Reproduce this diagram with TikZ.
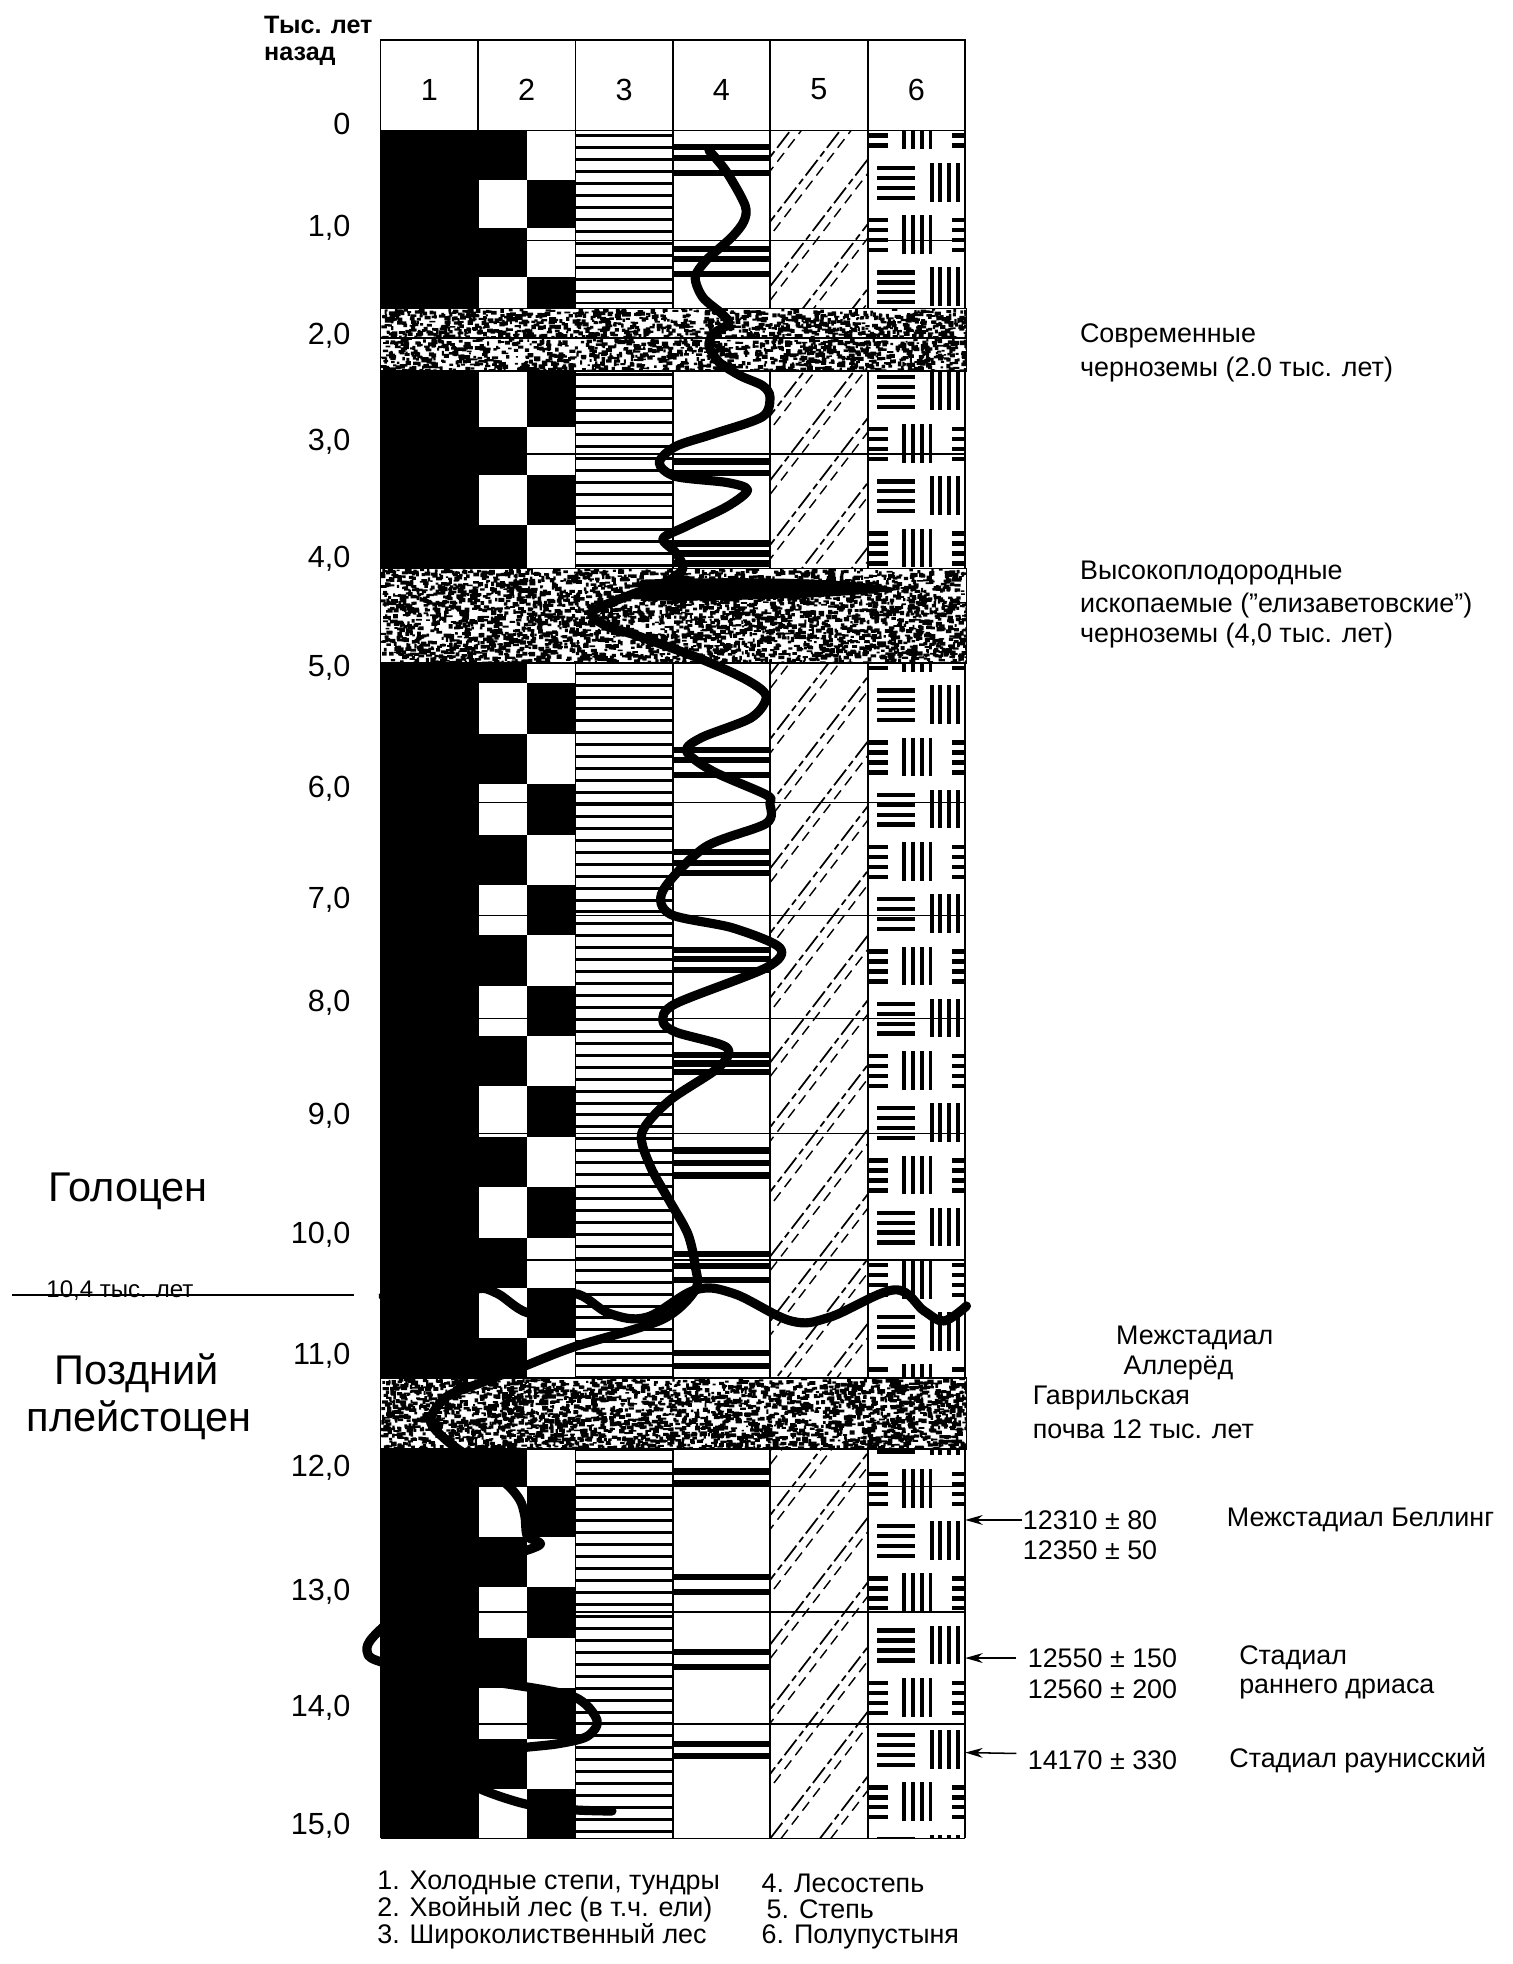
\documentclass[tikz,border=0pt]{standalone}
\usepackage{fontspec}
\setmainfont{Liberation Sans}
\usetikzlibrary{arrows.meta}

% speckled soil layer: top, bottom, number of grains
\newcommand\soilband[3]{%
  \fill[white] (306,#1) rectangle (777,#2);
  \begin{scope}
    \clip (306,#1) rectangle (777,#2);
    \fill \foreach \i in {1,...,#3} {({306+471*rnd},{#1+(#2-#1)*rnd}) rectangle ++({1.5+3.5*rnd},{1.2+2.5*rnd})};
  \end{scope}
  \draw[line width=0.8pt] (306,#1) rectangle (777,#2);
}

\begin{document}
\begin{tikzpicture}[x=0.02cm,y=-0.02cm,
  lbl/.style={font=\fontsize{12.3}{14}\selectfont,inner sep=0pt,anchor=west},
  age/.style={font=\fontsize{14}{16}\selectfont,inner sep=0pt,anchor=east},
  big/.style={font=\fontsize{19}{22}\selectfont,inner sep=0pt},
  curve/.style={line width=4.2pt,line cap=round,line join=round},
  gridline/.style={line width=0.5pt},
  hatch/.style={line width=0.8pt,dash pattern=on 9pt off 2pt on 3pt off 2pt},
  hatchb/.style={line width=0.65pt,dash pattern=on 5pt off 3pt},
  arr/.style={-{Stealth[length=8pt,width=4.5pt]},line width=0.7pt}]
  \useasboundingbox (0,0) rectangle (1216,1579);
  \pgfmathsetseed{4711}

  % 1: cold steppe
  \fill (306,105) rectangle (384.3,1478);
  % 2: conifer forest, chequered
  \foreach \ya/\yb/\s in {105/145/0,145/183/1,183/223/0,223/248/1,
    298/343/1,343/382/0,382/422/1,422/457/0,
    533/549.5/0,549.5/590/1,590/630.5/0,630.5/671/1,671/711.5/0,711.5/752/1,
    752/792.5/0,792.5/833/1,833/873.5/0,873.5/914/1,914/954.5/0,954.5/995/1,
    995/1035.5/0,1035.5/1076/1,1076/1108/0,
    1165/1195/0,1195/1236/1,1236/1276/0,1276/1317/1,1317/1357/0,1357/1398/1,
    1398/1438/0,1438/1478/1}
    \fill (384.3+39.2*\s,\ya) rectangle ++(39.2,\yb-\ya);
  % 3: broadleaf forest
  \foreach \y in {108,117.6,...,1476}
    \fill (462.7,\y) rectangle (541,\y+2.4);
  % 4: forest-steppe
  \foreach \y in {118,127,139,200,208,220,371,380,437,445,453,603,611,623,
    685,694,702,764,771,780,848,855,862,925,935,945,1008,1018,1029,1088,1098,
    1183,1192,1268,1280,1328,1340,1402,1412}
    \fill (541,\y-2.5) rectangle (619.3,\y+2.5);
  % 5: steppe
  \begin{scope}
    \clip (619.3,105) rectangle (697.7,1478);
    \foreach \k in {-28,...,2} {
      \draw[hatch] (619.3+40*\k,1478) -- ++(1060,-1378);
      \draw[hatchb] (628+40*\k,1478) -- ++(1060,-1378);
    }
  \end{scope}
  % 6: semi-desert
  \begin{scope}
    \clip (697.7,105) rectangle (776,1478);
    \foreach \r in {0,...,33} {
      \pgfmathsetmacro\yy{89+42*\r}
      \pgfmathsetmacro\hh{mod(\r,2)==1 ? 705 : 683}
      \foreach \h in {\hh-82,\hh,\hh+82} {
        \foreach \d in {4,12,20,28}
          \fill (\h,\yy+\d-1.75) rectangle ++(31,3.5);
        \foreach \v in {44,51,58,65}
          \fill (\h+\v-1.5,\yy) rectangle ++(3,31);
      }
    }
  \end{scope}

  \foreach \y in {193,365,645,736,819,911,1013,1195,1296,1386}
    \draw[gridline] (384.3,\y) -- (776,\y);
  \foreach \x in {306,384.3,462.7,541,619.3,697.7,776}
    \draw[line width=0.8pt] (\x,105) -- (\x,1478);
  \draw[line width=0.8pt] (306,1478) -- (776,1478);

  % buried soils
  \soilband{248}{272}{1100}
  \soilband{272}{298}{1150}
  \soilband{457}{533}{3600}
  \soilband{1108}{1165}{2900}

  % climate curve
  \draw[curve] plot[smooth,tension=0.5] coordinates {
    (570,121) (584,138) (599,165) (598,178) (588,191) (568,209) (559,223)
    (565,239) (580,252) (586,260) (574,268) (570,278) (578,291) (595,302)
    (613,310) (619,319) (613,335) (573,349) (543,359) (530,372) (543,383)
    (585,388) (601,394) (585,407) (552,423) (533,433) (543,444) (549,457)
    (535,468) (505,479) (476,492) (487,503) (512,511) (564,530) (601,547)
    (616,560) (604,577) (564,593) (552,604) (573,620) (616,639) (619,646)
    (616,662) (567,681) (533,716) (539,735) (589,746) (627,762) (616,778)
    (543,807) (533,821) (544,830) (584,842) (578,858) (538,885) (516,911)
    (523,938) (538,965) (553,992) (559,1018) (559,1037) (532,1061) (461,1083)
    (420,1099) (386,1112) (359,1123) (346,1142) (359,1158) (381,1174)
    (407,1193) (418,1206) (422,1219) (424,1235) (434,1242) (402,1254)
    (362,1273) (327,1292) (300,1316) (295,1327) (303,1335) (354,1348)
    (402,1353) (461,1364) (480,1383) (472,1396) (448,1402) (407,1407)
    (375,1418) (380,1435) (421,1450) (461,1455) (492,1456)};
  \fill (515,466) .. controls (620,463) and (700,466) .. (723,474)
    .. controls (700,479) and (620,483) .. (515,483) -- cycle;
  % Holocene boundary
  \draw[curve] plot[smooth,tension=0.6] coordinates {
    (308,1042) (330,1034) (352,1040) (370,1046) (385,1036) (400,1040)
    (428,1056) (461,1040) (490,1056) (520,1059) (559,1037) (590,1040)
    (636,1062) (667,1059) (719,1037) (743,1054) (759,1062) (777,1050)};

  % header
  \draw[line width=0.8pt] (306,32) rectangle (776,105);
  \foreach \x in {384.3,462.7,541,619.3,697.7}
    \draw[line width=0.8pt] (\x,32) -- (\x,105);
  \foreach \i in {1,...,6}
    \node (hdr\i) [font=\fontsize{14}{16}\selectfont] at (306+78.3*\i-39.15,72) {\i};
  \node (ttl1) [font=\bfseries\fontsize{11.5}{13}\selectfont,inner sep=0pt,anchor=west] at (212,20) {Тыс. лет};
  \node (ttl2) [font=\bfseries\fontsize{11.5}{13}\selectfont,inner sep=0pt,anchor=west] at (212,45) {назад};

  % age scale
  \foreach \t/\y in {0/100,{1,0}/183,{2,0}/270,{3,0}/355,{4,0}/449,{5,0}/537,
    {6,0}/634,{7,0}/723,{8,0}/806,{9,0}/897,{10,0}/993,{11,0}/1090,
    {12,0}/1180,{13,0}/1280,{14,0}/1373,{15,0}/1468}
    \node[age] at (282,\y) {\t};

  \node (holo) [big] at (103,958) {Голоцен};
  \draw[line width=0.7pt] (10,1041) -- (285,1041);
  \node (bnd) [font=\fontsize{11}{13}\selectfont,inner sep=0pt,anchor=base west] at (37,1043) {10,4 тыс. лет};
  \node (late) [big] at (110,1104) {Поздний};
  \node (pleist) [big] at (112,1142) {плейстоцен};

  % soils
  \node (sovr) [lbl] at (868,270) {Современные};
  \node (chern1) [lbl] at (868,297) {черноземы (2.0 тыс. лет)};
  \node (vys) [lbl] at (868,461) {Высокоплодородные};
  \node (isk) [lbl] at (868,487) {ископаемые ("елизаветовские")};
  \node (chern2) [lbl] at (868,511) {черноземы (4,0 тыс. лет)};
  \node (mezh) [lbl] at (897,1076) {Межстадиал};
  \node (aller) [lbl] at (903,1100) {Аллерёд};
  \node (gavr) [lbl] at (830,1124) {Гаврильская};
  \node (pochva) [lbl] at (830,1149) {почва 12 тыс. лет};

  % dates
  \node (d1) [lbl] at (822,1222) {12310 ± 80};
  \node (d2) [lbl] at (822,1246) {12350 ± 50};
  \node (bell) [lbl] at (986,1222) {Межстадиал Беллинг};
  \node (d3) [lbl] at (826,1333) {12550 ± 150};
  \node (d4) [lbl] at (826,1358) {12560 ± 200};
  \node (st1) [lbl] at (996,1333) {Стадиал};
  \node (st2) [lbl] at (996,1358) {раннего дриаса};
  \node (d5) [lbl] at (826,1415) {14170 ± 330};
  \node (raun) [lbl] at (988,1415) {Стадиал раунисский};
  \coordinate (a1) at (776,1222);
  \coordinate (a2) at (776,1333);
  \coordinate (a3) at (776,1409);
  \draw[arr] (d1.west) -- (a1);
  \draw[arr] ([xshift=-5pt]d3.west) -- (a2);
  \draw[arr] ([xshift=-5pt,yshift=3pt]d5.west) -- (a3);

  % legend
  \node (leg1) [lbl] at (303,1514) {1. Холодные степи, тундры};
  \node (leg2) [lbl] at (303,1535) {2. Хвойный лес (в т.ч. ели)};
  \node (leg3) [lbl] at (303,1557) {3. Широколиственный лес};
  \node (leg4) [lbl] at (612,1514) {4. Лесостепь};
  \node (leg5) [lbl] at (616,1535) {5. Степь};
  \node (leg6) [lbl] at (612,1557) {6. Полупустыня};
\end{tikzpicture}
\end{document}
